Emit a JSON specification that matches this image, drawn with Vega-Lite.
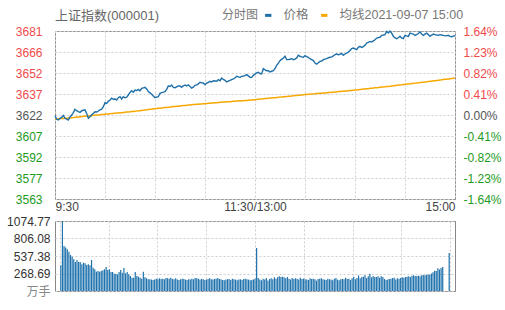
{
"$schema": "https://vega.github.io/schema/vega-lite/v6.json",
"background": "white",
"padding": {"left": 6, "top": 8, "right": 0, "bottom": 0},
"config": {
 "font": "Liberation Sans, Noto Sans CJK SC, sans-serif",
 "view": {"stroke": "#888888", "strokeWidth": 1},
 "axis": {"labelFontSize": 12, "gridColor": "#cfcfcf", "gridDash": [2, 2], "ticks": false, "domain": false, "labelFont": "Liberation Sans, Noto Sans CJK SC, sans-serif"}
},
"data": {"values": [
{"idx":0,"price":3621.5,"avg":3618.8,"vol":394},
{"idx":1,"price":3618.8,"avg":3619.0,"vol":1074.77},
{"idx":2,"price":3618.3,"avg":3619.1,"vol":691},
{"idx":3,"price":3619.5,"avg":3619.2,"vol":666},
{"idx":4,"price":3620.2,"avg":3619.3,"vol":640},
{"idx":5,"price":3621.6,"avg":3619.4,"vol":604},
{"idx":6,"price":3619.5,"avg":3619.5,"vol":553},
{"idx":7,"price":3618.9,"avg":3619.6,"vol":527},
{"idx":8,"price":3618.3,"avg":3619.7,"vol":486},
{"idx":9,"price":3620.5,"avg":3619.8,"vol":445},
{"idx":10,"price":3621.8,"avg":3619.9,"vol":476},
{"idx":11,"price":3623.5,"avg":3620.0,"vol":445},
{"idx":12,"price":3625.9,"avg":3620.2,"vol":445},
{"idx":13,"price":3624.9,"avg":3620.3,"vol":410},
{"idx":14,"price":3624.2,"avg":3620.5,"vol":435},
{"idx":15,"price":3623.7,"avg":3620.6,"vol":425},
{"idx":16,"price":3624.9,"avg":3620.7,"vol":399},
{"idx":17,"price":3625.2,"avg":3620.9,"vol":410},
{"idx":18,"price":3625.5,"avg":3621.0,"vol":394},
{"idx":19,"price":3623.0,"avg":3621.1,"vol":476},
{"idx":20,"price":3619.5,"avg":3621.2,"vol":358},
{"idx":21,"price":3620.6,"avg":3621.3,"vol":333},
{"idx":22,"price":3622.0,"avg":3621.4,"vol":297},
{"idx":23,"price":3623.0,"avg":3621.6,"vol":307},
{"idx":24,"price":3624.2,"avg":3621.7,"vol":297},
{"idx":25,"price":3624.0,"avg":3621.8,"vol":307},
{"idx":26,"price":3624.7,"avg":3621.9,"vol":317},
{"idx":27,"price":3625.5,"avg":3622.0,"vol":333},
{"idx":28,"price":3626.0,"avg":3622.2,"vol":369},
{"idx":29,"price":3627.7,"avg":3622.3,"vol":322},
{"idx":30,"price":3630.6,"avg":3622.4,"vol":333},
{"idx":31,"price":3630.1,"avg":3622.5,"vol":292},
{"idx":32,"price":3631.5,"avg":3622.6,"vol":292},
{"idx":33,"price":3632.5,"avg":3622.8,"vol":266},
{"idx":34,"price":3633.7,"avg":3622.9,"vol":266},
{"idx":35,"price":3633.0,"avg":3623.0,"vol":256},
{"idx":36,"price":3633.2,"avg":3623.1,"vol":292},
{"idx":37,"price":3632.5,"avg":3623.2,"vol":322},
{"idx":38,"price":3634.1,"avg":3623.3,"vol":282},
{"idx":39,"price":3634.8,"avg":3623.4,"vol":353},
{"idx":40,"price":3633.2,"avg":3623.5,"vol":271},
{"idx":41,"price":3634.8,"avg":3623.6,"vol":292},
{"idx":42,"price":3634.0,"avg":3623.8,"vol":256},
{"idx":43,"price":3634.4,"avg":3623.9,"vol":230},
{"idx":44,"price":3636.0,"avg":3624.0,"vol":205},
{"idx":45,"price":3637.8,"avg":3624.1,"vol":205},
{"idx":46,"price":3639.0,"avg":3624.3,"vol":292},
{"idx":47,"price":3638.0,"avg":3624.4,"vol":230},
{"idx":48,"price":3639.5,"avg":3624.5,"vol":220},
{"idx":49,"price":3639.2,"avg":3624.6,"vol":205},
{"idx":50,"price":3640.0,"avg":3624.8,"vol":190},
{"idx":51,"price":3639.0,"avg":3624.9,"vol":296},
{"idx":52,"price":3640.7,"avg":3625.1,"vol":210},
{"idx":53,"price":3641.0,"avg":3625.3,"vol":195},
{"idx":54,"price":3641.4,"avg":3625.4,"vol":180},
{"idx":55,"price":3640.3,"avg":3625.6,"vol":180},
{"idx":56,"price":3638.4,"avg":3625.7,"vol":175},
{"idx":57,"price":3637.5,"avg":3625.9,"vol":170},
{"idx":58,"price":3636.6,"avg":3626.0,"vol":175},
{"idx":59,"price":3635.3,"avg":3626.2,"vol":190},
{"idx":60,"price":3634.1,"avg":3626.3,"vol":180},
{"idx":61,"price":3634.5,"avg":3626.4,"vol":195},
{"idx":62,"price":3634.8,"avg":3626.6,"vol":185},
{"idx":63,"price":3637.2,"avg":3626.7,"vol":190},
{"idx":64,"price":3637.7,"avg":3626.8,"vol":180},
{"idx":65,"price":3638.0,"avg":3627.0,"vol":200},
{"idx":66,"price":3638.4,"avg":3627.1,"vol":195},
{"idx":67,"price":3640.0,"avg":3627.2,"vol":190},
{"idx":68,"price":3642.4,"avg":3627.4,"vol":205},
{"idx":69,"price":3642.0,"avg":3627.5,"vol":185},
{"idx":70,"price":3643.1,"avg":3627.7,"vol":180},
{"idx":71,"price":3641.4,"avg":3627.8,"vol":195},
{"idx":72,"price":3641.2,"avg":3627.9,"vol":175},
{"idx":73,"price":3641.8,"avg":3628.0,"vol":170},
{"idx":74,"price":3642.4,"avg":3628.1,"vol":180},
{"idx":75,"price":3642.4,"avg":3628.3,"vol":190},
{"idx":76,"price":3641.4,"avg":3628.4,"vol":185},
{"idx":77,"price":3642.5,"avg":3628.5,"vol":175},
{"idx":78,"price":3643.1,"avg":3628.6,"vol":170},
{"idx":79,"price":3642.4,"avg":3628.7,"vol":180},
{"idx":80,"price":3643.2,"avg":3628.9,"vol":175},
{"idx":81,"price":3642.1,"avg":3629.0,"vol":190},
{"idx":82,"price":3640.9,"avg":3629.1,"vol":180},
{"idx":83,"price":3641.5,"avg":3629.2,"vol":200},
{"idx":84,"price":3642.8,"avg":3629.3,"vol":195},
{"idx":85,"price":3643.2,"avg":3629.4,"vol":190},
{"idx":86,"price":3643.8,"avg":3629.5,"vol":175},
{"idx":87,"price":3645.0,"avg":3629.6,"vol":185},
{"idx":88,"price":3644.6,"avg":3629.7,"vol":180},
{"idx":89,"price":3644.5,"avg":3629.8,"vol":170},
{"idx":90,"price":3643.3,"avg":3629.9,"vol":175},
{"idx":91,"price":3644.5,"avg":3630.0,"vol":185},
{"idx":92,"price":3645.0,"avg":3630.1,"vol":195},
{"idx":93,"price":3645.7,"avg":3630.2,"vol":180},
{"idx":94,"price":3645.2,"avg":3630.3,"vol":175},
{"idx":95,"price":3646.1,"avg":3630.4,"vol":185},
{"idx":96,"price":3645.9,"avg":3630.5,"vol":190},
{"idx":97,"price":3645.7,"avg":3630.6,"vol":200},
{"idx":98,"price":3646.9,"avg":3630.7,"vol":185},
{"idx":99,"price":3646.1,"avg":3630.8,"vol":180},
{"idx":100,"price":3648.0,"avg":3630.9,"vol":170},
{"idx":101,"price":3647.0,"avg":3631.0,"vol":165},
{"idx":102,"price":3646.4,"avg":3631.1,"vol":175},
{"idx":103,"price":3645.2,"avg":3631.2,"vol":180},
{"idx":104,"price":3645.8,"avg":3631.2,"vol":185},
{"idx":105,"price":3646.4,"avg":3631.3,"vol":170},
{"idx":106,"price":3646.9,"avg":3631.4,"vol":190},
{"idx":107,"price":3647.4,"avg":3631.5,"vol":180},
{"idx":108,"price":3648.0,"avg":3631.6,"vol":175},
{"idx":109,"price":3649.2,"avg":3631.7,"vol":165},
{"idx":110,"price":3648.8,"avg":3631.8,"vol":175},
{"idx":111,"price":3648.5,"avg":3631.9,"vol":180},
{"idx":112,"price":3649.2,"avg":3632.0,"vol":170},
{"idx":113,"price":3649.4,"avg":3632.0,"vol":185},
{"idx":114,"price":3649.7,"avg":3632.1,"vol":190},
{"idx":115,"price":3650.4,"avg":3632.2,"vol":180},
{"idx":116,"price":3649.5,"avg":3632.3,"vol":175},
{"idx":117,"price":3648.5,"avg":3632.4,"vol":165},
{"idx":118,"price":3648.5,"avg":3632.5,"vol":170},
{"idx":119,"price":3649.9,"avg":3632.6,"vol":175},
{"idx":120,"price":3650.8,"avg":3632.7,"vol":190},
{"idx":121,"price":3651.6,"avg":3632.9,"vol":660},
{"idx":122,"price":3652.0,"avg":3633.0,"vol":200},
{"idx":123,"price":3651.2,"avg":3633.1,"vol":175},
{"idx":124,"price":3650.9,"avg":3633.2,"vol":165},
{"idx":125,"price":3654.6,"avg":3633.3,"vol":190},
{"idx":126,"price":3653.8,"avg":3633.5,"vol":175},
{"idx":127,"price":3653.2,"avg":3633.6,"vol":200},
{"idx":128,"price":3653.2,"avg":3633.7,"vol":160},
{"idx":129,"price":3652.3,"avg":3633.8,"vol":185},
{"idx":130,"price":3652.8,"avg":3633.9,"vol":195},
{"idx":131,"price":3653.2,"avg":3634.0,"vol":180},
{"idx":132,"price":3654.6,"avg":3634.1,"vol":210},
{"idx":133,"price":3657.0,"avg":3634.2,"vol":190},
{"idx":134,"price":3658.6,"avg":3634.4,"vol":210},
{"idx":135,"price":3660.3,"avg":3634.5,"vol":225},
{"idx":136,"price":3661.2,"avg":3634.6,"vol":215},
{"idx":137,"price":3662.2,"avg":3634.7,"vol":220},
{"idx":138,"price":3663.4,"avg":3634.8,"vol":210},
{"idx":139,"price":3661.0,"avg":3635.0,"vol":195},
{"idx":140,"price":3661.0,"avg":3635.1,"vol":215},
{"idx":141,"price":3661.3,"avg":3635.2,"vol":190},
{"idx":142,"price":3661.7,"avg":3635.3,"vol":175},
{"idx":143,"price":3661.0,"avg":3635.4,"vol":200},
{"idx":144,"price":3661.4,"avg":3635.6,"vol":185},
{"idx":145,"price":3662.2,"avg":3635.7,"vol":195},
{"idx":146,"price":3664.1,"avg":3635.8,"vol":190},
{"idx":147,"price":3663.4,"avg":3635.9,"vol":175},
{"idx":148,"price":3663.0,"avg":3636.0,"vol":205},
{"idx":149,"price":3662.7,"avg":3636.2,"vol":185},
{"idx":150,"price":3663.8,"avg":3636.3,"vol":190},
{"idx":151,"price":3663.2,"avg":3636.4,"vol":180},
{"idx":152,"price":3662.7,"avg":3636.5,"vol":175},
{"idx":153,"price":3661.7,"avg":3636.6,"vol":170},
{"idx":154,"price":3661.0,"avg":3636.7,"vol":195},
{"idx":155,"price":3660.3,"avg":3636.8,"vol":185},
{"idx":156,"price":3658.6,"avg":3636.9,"vol":190},
{"idx":157,"price":3657.9,"avg":3637.0,"vol":180},
{"idx":158,"price":3658.8,"avg":3637.1,"vol":160},
{"idx":159,"price":3659.8,"avg":3637.2,"vol":185},
{"idx":160,"price":3660.0,"avg":3637.3,"vol":190},
{"idx":161,"price":3661.0,"avg":3637.4,"vol":195},
{"idx":162,"price":3661.4,"avg":3637.5,"vol":180},
{"idx":163,"price":3661.7,"avg":3637.6,"vol":175},
{"idx":164,"price":3662.3,"avg":3637.7,"vol":170},
{"idx":165,"price":3662.7,"avg":3637.8,"vol":190},
{"idx":166,"price":3663.0,"avg":3637.9,"vol":180},
{"idx":167,"price":3663.6,"avg":3638.0,"vol":175},
{"idx":168,"price":3664.5,"avg":3638.1,"vol":165},
{"idx":169,"price":3665.0,"avg":3638.2,"vol":190},
{"idx":170,"price":3664.5,"avg":3638.4,"vol":200},
{"idx":171,"price":3664.8,"avg":3638.5,"vol":175},
{"idx":172,"price":3665.5,"avg":3638.6,"vol":165},
{"idx":173,"price":3664.1,"avg":3638.7,"vol":180},
{"idx":174,"price":3665.0,"avg":3638.8,"vol":185},
{"idx":175,"price":3665.6,"avg":3638.9,"vol":180},
{"idx":176,"price":3666.4,"avg":3639.0,"vol":205},
{"idx":177,"price":3667.5,"avg":3639.1,"vol":185},
{"idx":178,"price":3668.8,"avg":3639.2,"vol":190},
{"idx":179,"price":3669.2,"avg":3639.4,"vol":170},
{"idx":180,"price":3668.6,"avg":3639.5,"vol":195},
{"idx":181,"price":3668.1,"avg":3639.6,"vol":220},
{"idx":182,"price":3669.7,"avg":3639.8,"vol":180},
{"idx":183,"price":3670.4,"avg":3639.9,"vol":200},
{"idx":184,"price":3669.7,"avg":3640.0,"vol":240},
{"idx":185,"price":3670.2,"avg":3640.2,"vol":195},
{"idx":186,"price":3671.1,"avg":3640.3,"vol":215},
{"idx":187,"price":3672.8,"avg":3640.4,"vol":220},
{"idx":188,"price":3673.2,"avg":3640.5,"vol":240},
{"idx":189,"price":3673.9,"avg":3640.7,"vol":200},
{"idx":190,"price":3673.5,"avg":3640.8,"vol":225},
{"idx":191,"price":3674.3,"avg":3640.9,"vol":266},
{"idx":192,"price":3675.1,"avg":3641.1,"vol":210},
{"idx":193,"price":3676.3,"avg":3641.2,"vol":230},
{"idx":194,"price":3676.6,"avg":3641.3,"vol":215},
{"idx":195,"price":3676.8,"avg":3641.5,"vol":215},
{"idx":196,"price":3678.2,"avg":3641.6,"vol":225},
{"idx":197,"price":3678.4,"avg":3641.7,"vol":205},
{"idx":198,"price":3678.7,"avg":3641.8,"vol":225},
{"idx":199,"price":3681.0,"avg":3642.0,"vol":215},
{"idx":200,"price":3679.8,"avg":3642.1,"vol":185},
{"idx":201,"price":3681.2,"avg":3642.2,"vol":170},
{"idx":202,"price":3679.8,"avg":3642.4,"vol":175},
{"idx":203,"price":3677.5,"avg":3642.5,"vol":185},
{"idx":204,"price":3676.3,"avg":3642.7,"vol":190},
{"idx":205,"price":3675.8,"avg":3642.8,"vol":200},
{"idx":206,"price":3676.5,"avg":3643.0,"vol":205},
{"idx":207,"price":3677.5,"avg":3643.1,"vol":175},
{"idx":208,"price":3676.3,"avg":3643.2,"vol":195},
{"idx":209,"price":3675.8,"avg":3643.4,"vol":190},
{"idx":210,"price":3678.2,"avg":3643.5,"vol":200},
{"idx":211,"price":3677.8,"avg":3643.7,"vol":210},
{"idx":212,"price":3677.5,"avg":3643.8,"vol":205},
{"idx":213,"price":3679.8,"avg":3643.9,"vol":215},
{"idx":214,"price":3679.4,"avg":3644.1,"vol":220},
{"idx":215,"price":3679.1,"avg":3644.2,"vol":225},
{"idx":216,"price":3678.2,"avg":3644.4,"vol":215},
{"idx":217,"price":3678.7,"avg":3644.5,"vol":235},
{"idx":218,"price":3679.5,"avg":3644.6,"vol":240},
{"idx":219,"price":3680.5,"avg":3644.8,"vol":230},
{"idx":220,"price":3679.1,"avg":3644.9,"vol":230},
{"idx":221,"price":3678.2,"avg":3645.1,"vol":235},
{"idx":222,"price":3679.0,"avg":3645.2,"vol":225},
{"idx":223,"price":3679.8,"avg":3645.4,"vol":240},
{"idx":224,"price":3678.7,"avg":3645.5,"vol":245},
{"idx":225,"price":3677.5,"avg":3645.7,"vol":240},
{"idx":226,"price":3678.4,"avg":3645.8,"vol":250},
{"idx":227,"price":3679.1,"avg":3646.0,"vol":255},
{"idx":228,"price":3678.7,"avg":3646.1,"vol":250},
{"idx":229,"price":3678.4,"avg":3646.3,"vol":270},
{"idx":230,"price":3678.2,"avg":3646.4,"vol":287},
{"idx":231,"price":3678.7,"avg":3646.6,"vol":312},
{"idx":232,"price":3678.4,"avg":3646.7,"vol":307},
{"idx":233,"price":3678.2,"avg":3646.9,"vol":348},
{"idx":234,"price":3677.8,"avg":3647.1,"vol":330},
{"idx":235,"price":3678.0,"avg":3647.2,"vol":355},
{"idx":236,"price":3678.2,"avg":3647.4,"vol":368},
{"idx":237,"price":3677.5,"avg":3647.5,"vol":0},
{"idx":238,"price":3677.2,"avg":3647.6,"vol":0},
{"idx":239,"price":3677.6,"avg":3647.8,"vol":0},
{"idx":240,"price":3677.9,"avg":3648.0,"vol":583}
]},
"vconcat": [
 {
  "width": 400,
  "height": 168,
  "title": {"text": "上证指数(000001)", "anchor": "start", "frame": "group", "fontSize": 13, "fontWeight": "normal", "color": "#666666", "offset": -14},
  "layer": [
   {
    "mark": {"type": "line", "strokeWidth": 1.5},
    "encoding": {
     "x": {"field": "idx", "type": "quantitative", "scale": {"domain": [0, 240], "nice": false, "zero": false},
      "axis": {"title": null, "values": [0, 30, 60, 90, 120, 150, 180, 210, 240], "labelExpr": "datum.value == 0 ? '9:30' : datum.value == 120 ? '11:30/13:00' : datum.value == 240 ? '15:00' : ''", "labelFlush": true, "labelOverlap": false, "labelPadding": 2, "labelColor": "#444444", "grid": true}},
     "y": {"field": "avg", "type": "quantitative", "scale": {"domain": [3562.46, 3681.26], "nice": false, "zero": false},
      "axis": {"orient": "right", "title": null, "grid": false, "values": [3562.46, 3577.31, 3592.16, 3607.01, 3621.86, 3636.71, 3651.56, 3666.41, 3681.26], "labelExpr": "['-1.64%','-1.23%','-0.82%','-0.41%','0.00%','0.41%','0.82%','1.23%','1.64%'][round((datum.value - 3621.86) / 14.85) + 4]", "labelPadding": 8, "labelColor": {"condition": [{"test": "datum.value > 3622", "value": "#f04a4a"}, {"test": "datum.value < 3621", "value": "#1e9a1e"}], "value": "#555555"}}},
     "color": {"datum": "均线", "type": "nominal", "scale": {"domain": ["价格", "均线"], "range": ["#1f6fa8", "#f7a800"]},
      "legend": {"orient": "none", "legendX": 167, "legendY": -22, "direction": "horizontal", "title": "分时图", "titleOrient": "left", "titleFontSize": 12, "titleFontWeight": "normal", "titleColor": "#777777", "titlePadding": 3, "labelFontSize": 12.5, "labelColor": "#777777", "symbolType": "stroke", "symbolStrokeWidth": 3, "symbolSize": 40, "columnPadding": 6, "labelOffset": 9, "labelExpr": "datum.label == '均线' ? '均线2021-09-07 15:00' : datum.label"}}
    }
   },
   {
    "mark": {"type": "line", "strokeWidth": 1.4},
    "encoding": {
     "x": {"field": "idx", "type": "quantitative", "scale": {"domain": [0, 240], "nice": false, "zero": false},
      "axis": {"title": null, "values": [0, 30, 60, 90, 120, 150, 180, 210, 240], "labelExpr": "datum.value == 0 ? '9:30' : datum.value == 120 ? '11:30/13:00' : datum.value == 240 ? '15:00' : ''", "labelFlush": true, "labelOverlap": false, "labelPadding": 2, "labelColor": "#444444", "grid": true}},
     "y": {"field": "price", "type": "quantitative", "scale": {"domain": [3562.46, 3681.26], "nice": false, "zero": false},
      "axis": {"orient": "left", "title": null, "grid": true, "values": [3562.46, 3577.31, 3592.16, 3607.01, 3621.86, 3636.71, 3651.56, 3666.41, 3681.26], "labelExpr": "datum.value < 3570 ? '3563' : format(datum.value, '.0f')", "labelPadding": 13, "labelColor": {"condition": [{"test": "datum.value > 3622", "value": "#f04a4a"}, {"test": "datum.value < 3621", "value": "#1e9a1e"}], "value": "#555555"}}},
     "color": {"datum": "价格", "type": "nominal"}
    }
   }
  ],
  "resolve": {"axis": {"y": "independent"}}
 },
 {
  "width": 400,
  "height": 70,
  "mark": {"type": "bar", "width": 1.2, "color": "#1f72ad"},
  "encoding": {
   "x": {"field": "idx", "type": "quantitative", "scale": {"domain": [-0.5, 240.5], "nice": false, "zero": false},
    "axis": {"title": null, "labels": false, "grid": true, "values": [-0.5, 29.625, 59.75, 89.875, 120, 150.125, 180.25, 210.375, 240.5]}},
   "y": {"field": "vol", "type": "quantitative", "scale": {"domain": [0, 1074.77], "nice": false, "zero": true},
    "axis": {"title": null, "grid": true, "values": [0, 268.69, 537.38, 806.08, 1074.77], "labelExpr": "datum.value == 0 ? '万手' : format(datum.value, '.2f')", "labelPadding": 5, "labelColor": {"condition": {"test": "datum.value == 0", "value": "#888888"}, "value": "#333333"}}}
  }
 }
],
"spacing": 1,
"resolve": {"scale": {"x": "independent", "y": "independent", "color": "independent"}}
}
